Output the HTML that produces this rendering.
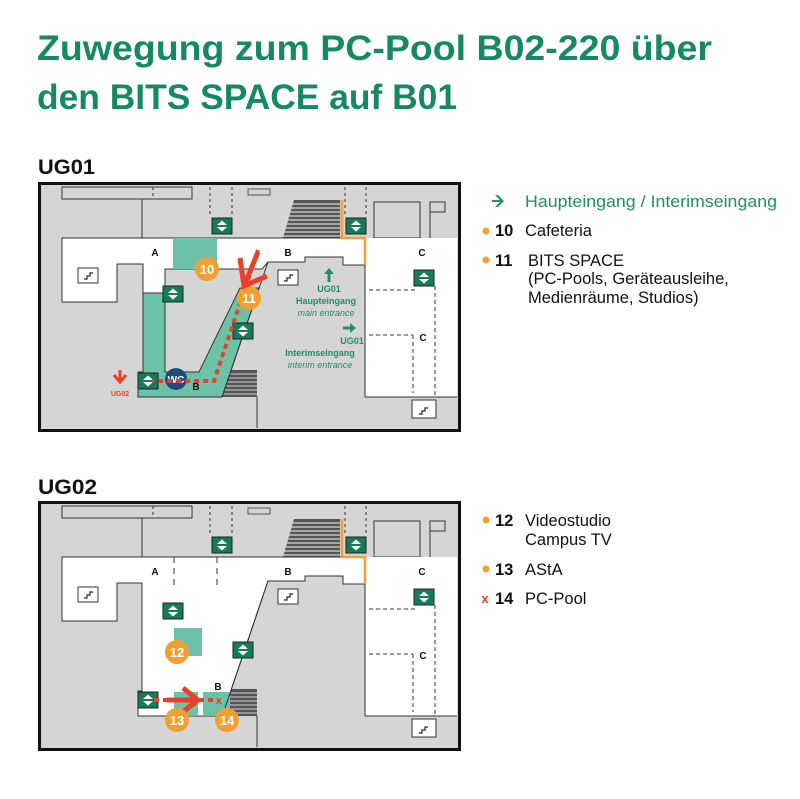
<!DOCTYPE html>
<html><head><meta charset="utf-8"><style>html,body{margin:0;padding:0;background:#fff}svg{display:block}</style></head>
<body>
<svg width="800" height="799" viewBox="0 0 800 799" xmlns="http://www.w3.org/2000/svg" font-family="Liberation Sans, sans-serif">
<defs>
  <g id="elev"><rect x="0" y="0" width="20" height="16" fill="#177a58" stroke="#222" stroke-width="1"/><polygon points="10,2.5 15,7 5,7" fill="#fff"/><polygon points="10,13.5 15,9 5,9" fill="#fff"/></g>
  <g id="stair"><rect x="0" y="0" width="20" height="15" fill="#fff" stroke="#333" stroke-width="1"/><path d="M6,11 h3 v-3 h3 v-3 h3" fill="none" stroke="#222" stroke-width="1.2"/></g>
  <g id="base">
    <rect x="40" y="184" width="418" height="245" fill="#d5d5d5"/>
    <rect x="62" y="187" width="130" height="12" fill="none" stroke="#333" stroke-width="1"/>
    <line x1="142" y1="199" x2="142" y2="238" stroke="#333"/>
    <line x1="153" y1="187" x2="153" y2="199" stroke="#333" stroke-dasharray="3,3"/>
    <line x1="210" y1="187" x2="210" y2="215" stroke="#333" stroke-dasharray="3,3"/>
    <line x1="232" y1="187" x2="232" y2="215" stroke="#333" stroke-dasharray="3,3"/>
    <line x1="345" y1="187" x2="345" y2="215" stroke="#333" stroke-dasharray="3,3"/>
    <line x1="366" y1="187" x2="366" y2="215" stroke="#333" stroke-dasharray="3,3"/>
    <rect x="248" y="189" width="22" height="6" fill="none" stroke="#555" stroke-width="1"/>
    <polygon points="294,200 340,200 340,238 283,238" fill="#555"/>
    <g stroke="#d5d5d5" stroke-width="1.2">
      <line x1="280" y1="204" x2="342" y2="204"/><line x1="280" y1="208" x2="342" y2="208"/><line x1="280" y1="212" x2="342" y2="212"/><line x1="280" y1="216" x2="342" y2="216"/><line x1="280" y1="220" x2="342" y2="220"/><line x1="280" y1="224" x2="342" y2="224"/><line x1="280" y1="228" x2="342" y2="228"/><line x1="280" y1="232" x2="342" y2="232"/><line x1="280" y1="236" x2="342" y2="236"/>
    </g>
    <rect x="374" y="202" width="46" height="36" fill="none" stroke="#333"/>
    <rect x="430" y="202" width="15" height="10" fill="none" stroke="#333"/>
    <line x1="430" y1="212" x2="430" y2="238" stroke="#333"/>
    <polygon points="457,238 365,238 365,397 457,397" fill="#fff"/>
    <line x1="365" y1="265" x2="365" y2="397" stroke="#333"/>
    <line x1="365" y1="397" x2="457" y2="397" stroke="#333"/>
    <line x1="369" y1="290" x2="418" y2="290" stroke="#333" stroke-dasharray="4,3"/>
    <line x1="435" y1="286" x2="435" y2="397" stroke="#333" stroke-dasharray="4,3"/>
    <line x1="369" y1="335" x2="413" y2="335" stroke="#333" stroke-dasharray="4,3"/>
    <line x1="413" y1="335" x2="413" y2="393" stroke="#333" stroke-dasharray="4,3"/>
    <rect x="412" y="400" width="24" height="18" fill="#fff" stroke="#333"/>
    <path d="M419,414 h3 v-3 h3 v-3 h3" fill="none" stroke="#222" stroke-width="1.2"/>
    <line x1="257" y1="397" x2="257" y2="428" stroke="#333"/>
    <polygon points="227,370 257,370 257,397 222,397" fill="#555"/>
    <g stroke="#d5d5d5" stroke-width="1"><line x1="222" y1="374" x2="257" y2="374"/><line x1="222" y1="378" x2="257" y2="378"/><line x1="222" y1="382" x2="257" y2="382"/><line x1="222" y1="386" x2="257" y2="386"/><line x1="222" y1="390" x2="257" y2="390"/><line x1="222" y1="394" x2="257" y2="394"/></g>
  </g>
</defs>

<text x="37" y="60" font-size="35" font-weight="bold" fill="#15895f" textLength="675" lengthAdjust="spacingAndGlyphs">Zuwegung zum PC-Pool B02-220 über</text>
<text x="37" y="109" font-size="35" font-weight="bold" fill="#15895f" textLength="420" lengthAdjust="spacingAndGlyphs">den BITS SPACE auf B01</text>
<text x="38" y="174" font-size="21" font-weight="bold" fill="#111" textLength="57" lengthAdjust="spacingAndGlyphs">UG01</text>
<text x="38" y="494" font-size="21" font-weight="bold" fill="#111" textLength="59" lengthAdjust="spacingAndGlyphs">UG02</text>

<!-- MAP 1 -->
<use href="#base"/>
<polygon points="62,238 365,238 365,265 343,265 343,257 305,257 305,262 268,262 262,269 165,269 165,293 143,293 143,264 117,264 117,302 62,302" fill="#fff" stroke="#333" stroke-width="1"/>
<rect x="173" y="238" width="44" height="31" fill="#6cc2a8"/>
<polygon points="143,293 165,293 165,372 199,372 240,288 259,288 222,397 138,397 138,372 143,372" fill="#6cc2a8" stroke="#333" stroke-width="1"/>
<line x1="268" y1="262" x2="222" y2="397" stroke="#333"/>
<path d="M342,200 V238 H365 V265" fill="none" stroke="#f0a030" stroke-width="2.5"/>
<use href="#elev" x="212" y="218"/><use href="#elev" x="346" y="218"/><use href="#elev" x="163" y="286"/>
<use href="#elev" x="414" y="270"/><use href="#elev" x="233" y="323"/><use href="#elev" x="138" y="373"/>
<use href="#stair" x="78" y="268"/><use href="#stair" x="278" y="270"/>
<g font-size="10" font-weight="bold" fill="#111" text-anchor="middle">
<text x="155" y="256">A</text><text x="288" y="256">B</text><text x="422" y="256">C</text><text x="423" y="341">C</text><text x="196" y="390">B</text></g>
<circle cx="207" cy="269" r="12" fill="#f0a030"/><text x="207" y="274" font-size="13" font-weight="bold" fill="#fff" text-anchor="middle">10</text>
<circle cx="176" cy="379" r="11" fill="#1d4e7a"/><text x="176" y="383" font-size="10" font-weight="bold" fill="#fff" text-anchor="middle">WC</text>
<path d="M258,250 L214,381 L152,381" fill="none" stroke="#e8402a" stroke-width="4" stroke-dasharray="5,4"/>
<circle cx="249" cy="298" r="12" fill="#f0a030"/><text x="249" y="303" font-size="13" font-weight="bold" fill="#fff" text-anchor="middle">11</text>
<path d="M240,258 L244,286 L267,276" fill="none" stroke="#e8402a" stroke-width="5"/>
<line x1="244" y1="286" x2="258" y2="252" stroke="#e8402a" stroke-width="5"/>
<g fill="#1f8f63" font-weight="bold" text-anchor="middle">
<path d="M329,268 l-5,6 h3.5 v8 h3 v-8 h3.5 z" fill="#1f8f63"/>
<text x="329" y="292" font-size="9">UG01</text>
<text x="326" y="304" font-size="9">Haupteingang</text>
<text x="326" y="316" font-size="9" font-style="italic" font-weight="normal">main entrance</text>
<path d="M356,328 l-6,-5 v3.5 h-7 v3 h7 v3.5 z" fill="#1f8f63"/>
<text x="352" y="344" font-size="9">UG01</text>
<text x="320" y="356" font-size="9">Interimseingang</text>
<text x="320" y="368" font-size="9" font-style="italic" font-weight="normal">interim entrance</text>
</g>
<path d="M120,370 v10 M114,375 l6,7 l6,-7" fill="none" stroke="#e8402a" stroke-width="3"/>
<text x="120" y="396" font-size="7" font-weight="bold" fill="#e8402a" text-anchor="middle">UG02</text>
<rect x="39.5" y="183.5" width="420" height="247" fill="none" stroke="#111" stroke-width="3"/>

<!-- MAP 2 -->
<g transform="translate(0,319)">
<use href="#base"/>
<polygon points="62,238 365,238 365,265 343,265 343,257 305,257 305,262 268,262 225,389 222,397 138,397 138,372 142,372 142,264 117,264 117,302 62,302" fill="#fff" stroke="#333" stroke-width="1"/>
<line x1="174" y1="238" x2="174" y2="270" stroke="#333" stroke-dasharray="6,5"/>
<line x1="217" y1="238" x2="217" y2="270" stroke="#333" stroke-dasharray="6,5"/>
<path d="M342,200 V238 H365 V265" fill="none" stroke="#f0a030" stroke-width="2.5"/>
<rect x="174" y="309" width="28" height="28" fill="#6cc2a8"/>
<rect x="174" y="373" width="24" height="23" fill="#6cc2a8"/>
<rect x="203" y="373" width="27" height="23" fill="#6cc2a8"/>
<line x1="268" y1="262" x2="225" y2="389" stroke="#333"/>
<use href="#elev" x="212" y="218"/><use href="#elev" x="346" y="218"/><use href="#elev" x="163" y="284"/>
<use href="#elev" x="414" y="270"/><use href="#elev" x="233" y="323"/><use href="#elev" x="138" y="373"/>
<use href="#stair" x="78" y="268"/><use href="#stair" x="278" y="270"/>
<g font-size="10" font-weight="bold" fill="#111" text-anchor="middle">
<text x="155" y="256">A</text><text x="288" y="256">B</text><text x="422" y="256">C</text><text x="423" y="340">C</text><text x="218" y="371">B</text></g>
<circle cx="177" cy="333" r="12" fill="#f0a030"/><text x="177" y="338" font-size="13" font-weight="bold" fill="#fff" text-anchor="middle">12</text>
<line x1="154" y1="381" x2="218" y2="381" stroke="#e8402a" stroke-width="4" stroke-dasharray="5,4"/>
<line x1="167" y1="381" x2="198" y2="381" stroke="#e8402a" stroke-width="5"/>
<path d="M183,369 L198,381 L183,393" fill="none" stroke="#e8402a" stroke-width="5"/>
<text x="219" y="385" font-size="11" font-weight="bold" fill="#e8402a" text-anchor="middle">x</text>
<circle cx="177" cy="401" r="12" fill="#f0a030"/><text x="177" y="406" font-size="13" font-weight="bold" fill="#fff" text-anchor="middle">13</text>
<circle cx="227" cy="401" r="12" fill="#f0a030"/><text x="227" y="406" font-size="13" font-weight="bold" fill="#fff" text-anchor="middle">14</text>
<rect x="39.5" y="183.5" width="420" height="247" fill="none" stroke="#111" stroke-width="3"/>
</g>

<!-- Legend -->
<g font-size="16.5">
<path d="M504,201 l-6,-6 h-3 l5,5 h-8 v2 h8 l-5,5 h3 z" fill="#1f8f63"/>
<text x="525" y="207" fill="#1f8f63" textLength="252" lengthAdjust="spacingAndGlyphs">Haupteingang / Interimseingang</text>
<circle cx="486" cy="231" r="3.5" fill="#f0a030"/><text x="495" y="236" font-weight="bold" fill="#111">10</text><text x="525" y="236" fill="#111">Cafeteria</text>
<circle cx="486" cy="260" r="3.5" fill="#f0a030"/><text x="495" y="266" font-weight="bold" fill="#111">11</text>
<text x="528" y="266" fill="#111">BITS SPACE</text>
<text x="528" y="284" fill="#111">(PC-Pools, Geräteausleihe,</text>
<text x="528" y="303" fill="#111">Medienräume, Studios)</text>
<circle cx="486" cy="520" r="3.5" fill="#f0a030"/><text x="495" y="526" font-weight="bold" fill="#111">12</text>
<text x="525" y="526" fill="#111">Videostudio</text><text x="525" y="545" fill="#111">Campus TV</text>
<circle cx="486" cy="569" r="3.5" fill="#f0a030"/><text x="495" y="575" font-weight="bold" fill="#111">13</text><text x="525" y="575" fill="#111">AStA</text>
<text x="485" y="603" font-size="13" font-weight="bold" fill="#e8402a" text-anchor="middle">x</text>
<text x="495" y="604" font-weight="bold" fill="#111">14</text><text x="525" y="604" fill="#111">PC-Pool</text>
</g>
</svg>
</body></html>
